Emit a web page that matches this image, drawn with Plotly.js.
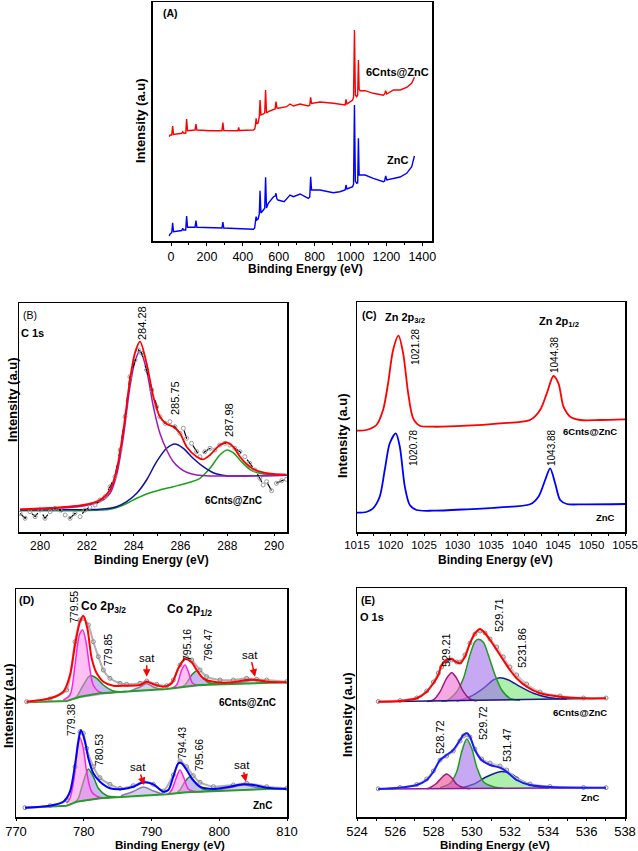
<!DOCTYPE html>
<html><head><meta charset="utf-8">
<script src="https://cdn.plot.ly/plotly-3.0.1.min.js"></script>
<style>html,body{margin:0;padding:0;background:#fff}#chart{width:638px;height:851px}</style>
</head><body><div id="chart"></div>
<script>
// ---------- Panel A: survey ----------
const A_red_E = [-10,-5,4,9,14,50,60,65,70,82,87,92,134,139,144,217,284,289,294,373,377,381,459,466,470,474,478,485,492,496,501,515,522,527,532,542,570,580,585,590,596,644,663,682,719,765,773,778,783,830,904,960,970,975,980,1012,1017,1022,1027,1034,1040,1044,1048,1053,1081,1127,1183,1190,1196,1202,1239,1276,1313,1341,1356];
const A_red_I = [104.3,106,106,115,106.5,107.7,107.7,109.3,108,107.7,122,110.3,111,117,111,110.3,110.3,118.3,110.5,110.3,113.7,110.5,111,112,115,122.7,117,118,124.3,141,126,127,128,151,128,129.3,131,132,139.3,133,132.7,134.3,137,135,137,135,136,143.7,137.5,139,137.7,135.7,136,141.7,137,141,144,211,146,144.3,146,181,152,150.3,150.3,147.7,145.7,147,150.3,147,151,151,153.7,157.7,163.7];
const A_blue_E = [-10,-5,4,9,14,50,60,65,70,82,87,92,134,139,144,284,289,294,459,466,470,474,478,485,492,496,501,510,522,527,532,542,570,580,585,590,596,630,644,663,682,719,765,773,778,783,830,904,940,960,970,975,980,1012,1017,1022,1027,1034,1040,1044,1048,1053,1081,1127,1183,1190,1196,1202,1239,1276,1313,1341,1356];
const A_blue_I = [5,7,8.3,18.3,9.3,10.3,10.5,12.7,11,11,25,13.7,13.7,20.3,13.7,13,19,13,11.7,13,18,24.3,21,22,27,50.3,28,30,32.7,63.7,33,37.7,44,45,47.7,42,41,39.3,42,46,44.3,47,42.7,44,64.3,51,51,48.3,49.3,50,51,56,52,54.3,57,136,60,57.7,58,102.7,66,66,66,62.7,59.3,60,65,61,62.7,64,67.7,74.3,85];
const A_ticks = [0,200,400,600,800,1000,1200,1400];

// ---------- Panel B: C 1s ----------
const B_raw_E = [279.15,279.36,279.57,279.79,280.0,280.21,280.43,280.64,280.85,281.07,281.28,281.49,281.71,281.92,282.13,282.35,282.56,282.78,282.99,283.2,283.42,283.63,283.84,284.06,284.2,284.34,284.55,284.77,284.98,285.12,285.34,285.55,285.76,285.98,286.12,286.26,286.47,286.69,286.83,287.04,287.26,287.47,287.68,287.9,288.11,288.32,288.54,288.75,288.96,289.18,289.39,289.53,289.68,289.89,290.1,290.32,290.53];
const B_raw_I = [18.7,13.7,20.3,15.3,22,13.7,20.3,23.7,22,17,13.7,18.7,15.3,22,24.7,27,32,35.3,45.3,55.3,82,115.3,155.3,172,182,178.7,162,142,125.3,115.3,108.7,110.3,105.3,98.7,103.7,93.7,88.7,80.3,75.3,80.3,83.7,82,87,88.7,87,83.7,80.3,75.3,68.7,62,53.7,47,50.3,41.3,48.7,51.3,52.7];
const B_fit_E = [279.15,280.43,281.85,282.56,282.99,283.27,283.56,283.84,284.05,284.27,284.55,284.84,285.12,285.41,285.69,285.98,286.26,286.69,286.97,287.26,287.68,287.97,288.25,288.54,288.96,289.39,289.96,290.53];
const B_fit_I = [22.7,24,27,32,42,62,102,152,178.7,190.3,168.7,135.3,115.3,108,105.3,98.7,85.3,75.3,72.7,77,87,89.7,85.3,75.3,65.3,60.3,58,57.3];
const B_cc_E = [279.15,280.43,281.85,282.56,282.99,283.27,283.56,283.84,284.05,284.27,284.55,284.84,285.12,285.41,285.69,285.98,286.26,286.69,287.26,288.25,290.53];
const B_cc_I = [22.7,23.3,26,30.3,38.7,57,95.3,145.3,170.3,181.3,162,125.3,98.7,82,70.3,63.7,59.7,57,56,56,56.7];
const B_co_E = [279.15,281.14,282.56,283.27,283.7,284.13,284.55,284.98,285.41,285.76,286.12,286.54,286.97,287.4,287.97,288.54,290.53];
const B_co_I = [22,22.3,22.7,25.3,30.3,38.7,52,70.3,83.7,88,83.7,73.7,65.3,59.3,56.3,56,56.7];
const B_oco_E = [279.15,281.85,282.99,283.56,284.13,284.55,285.12,285.69,286.26,286.83,287.26,287.68,287.99,288.25,288.54,288.96,289.39,289.96,290.53];
const B_oco_I = [21.3,21.3,22.7,27,33.7,38,42,45.3,48.7,53.7,63.7,77,82,79.3,72,62.7,58.7,57.3,57];

// ---------- Panel C: Zn 2p ----------
const C_red_E = [1015,1016.4,1017.9,1018.89,1019.64,1020.39,1021.19,1021.89,1022.64,1023.38,1024.38,1026.37,1031.36,1036.35,1040.83,1042.33,1043.33,1044.32,1045.07,1045.82,1046.82,1048.31,1051.3,1055];
const C_red_I = [101.3,102,107,122,148.7,182,196.3,178.7,138.7,113.7,106.3,105.3,106.3,108.7,112,122,138.7,156,148.7,125.3,115.3,112,112,112.7];
const C_blue_E = [1015,1016.4,1017.39,1018.39,1019.14,1019.89,1020.79,1021.39,1022.14,1022.88,1023.88,1026.37,1031.36,1036.35,1040.83,1042.08,1043.08,1043.83,1044.57,1045.32,1046.32,1048.81,1055];
const C_blue_I = [19.3,20,23.7,35.3,62,88.7,98.7,85.3,45.3,27,22,21.3,22.7,24.7,27.7,35.3,52,63.7,48.7,32,28,27.7,28];

// ---------- Panel D: Co 2p ----------
const D1_bg_E = [771.57,777.48,779.45,782.4,792.24,795.19,797.16,809.95];
const D1_bg_I = [114.7,116,120.3,123.7,128,130.3,132,134.7];
const D1_fit_E = [771.57,775.02,776.99,777.97,778.71,779.45,779.94,780.53,781.17,781.91,782.89,784.37,786.33,788.3,789.29,790.27,791.75,792.98,793.96,794.94,795.93,796.67,797.65,799.62,802.08,804.05,805.52,807.0,809.95];
const D1_fit_I = [115.3,118.7,125.3,142,172,195.3,201.3,188.7,158.7,143.7,135.3,131.3,131.3,132,135.3,132.7,130.3,133.7,148.7,158,154.7,147,138.7,134.7,134.7,137,137,135.3,134.7];
const D1_raw_E = [771.57,775.02,777.48,778.71,779.45,779.94,780.68,781.41,782.15,782.89,783.87,785.35,786.33,788.3,789.29,790.76,792.24,793.22,794.2,795.19,795.93,797.16,798.14,800.11,802.08,804.05,805.52,807.0,809.95];
const D1_raw_I = [115.3,118,127,175.3,197,198.7,192,175.3,160.3,147,138.7,133.7,132.7,133.7,136,132.7,131.3,137,152,159.3,157,147,140.3,137,137,138.7,137.7,137,135.3];
const D1_p1_E = [776.99,777.97,778.71,779.35,779.84,780.33,780.82,781.41,782.4,784.37];
const D1_p1_I = [117,122,152,182,187,175.3,152,132,124.7,124.6];
const D1_s1_E = [778.46,778.95,779.94,780.92,781.91,782.89,784.37,786.33];
const D1_s1_I = [118,120.3,132,141.3,138.7,132,126,125.5];
const D1_sat1_E = [786.8,788.3,789.29,790.27,791.75];
const D1_sat1_I = [125.8,130,133.5,130,127.2];
const D1_p2_E = [792.98,793.71,794.45,794.94,795.44,796.08,797.16,798.14];
const D1_p2_I = [128.7,132,147,152,145.3,133.7,131.5,132.2];
const D1_s2_E = [794.2,794.94,795.93,796.67,797.4,798.39,799.62,801.0];
const D1_s2_I = [129.6,132,142,146,140.3,134.5,133,133.3];
const D1_sat2_E = [801.6,803.5,805.0,806.5,808.5];
const D1_sat2_I = [133,135,137,135.5,134.5];

const D2_bg_E = [771.33,777.48,778.95,782.4,792.24,795.19,809.95];
const D2_bg_I = [9.3,11.3,15.3,18.7,22.7,24.7,28.7];
const D2_fit_E = [771.33,775.02,776.99,777.97,778.71,779.2,779.59,780.18,780.68,781.41,782.4,783.87,785.84,787.32,788.8,790.27,791.75,792.48,793.22,793.96,794.45,795.19,795.93,797.16,799.13,801.59,803.55,805.03,807.0,809.95];
const D2_fit_I = [9.3,11.3,15.3,25.3,52,75.3,87,75.3,58.7,43.7,35.3,28.7,28,30.3,34.7,32.7,25.3,27,40.3,53.7,53.7,47,38.7,30.3,28,30.3,32.7,32,29.3,28];
const D2_raw_E = [771.33,775.02,777.48,778.71,779.45,779.94,780.43,781.41,782.4,783.87,785.35,787.32,788.8,790.27,791.75,793.22,794.2,795.19,796.17,797.16,799.13,802.08,804.05,807.0,809.95];
const D2_raw_I = [9.3,11.3,17,50.3,85.3,83.7,68.7,50.3,39.3,32.7,28.7,31.3,35.3,32.7,26,42,56,50.3,41.3,34.7,30.3,32,33.7,30.3,28.7];
const D2_p1_E = [777.48,777.97,778.71,779.05,779.45,779.94,780.43,781.17,782.4,783.87];
const D2_p1_I = [13.7,18.7,45.3,68.7,79.3,68.7,45.3,25.3,19.5,19.3];
const D2_s1_E = [778.71,779.2,779.94,780.68,781.41,782.15,783.38,784.86];
const D2_s1_I = [14.7,18.7,35.3,48,40.3,28.7,21.3,20];
const D2_sat1_E = [785.5,787.3,788.8,790.3,791.7];
const D2_sat1_I = [21.3,25.5,30,26,22.5];
const D2_p2_E = [792.48,792.98,793.71,794.2,794.8,795.44,796.67,797.65];
const D2_p2_I = [23,27,40.3,47,38.7,28,25.3,25.5];
const D2_s2_E = [793.71,794.2,794.94,795.68,796.42,797.4,798.64,800.11];
const D2_s2_I = [24,27,35.3,40.3,35.3,28.7,26.5,26];
const D2_sat2_E = [799.5,801.6,803.55,805.5,807.5];
const D2_sat2_I = [26.5,29.5,32,29.5,28];

// ---------- Panel E: O 1s ----------
const E1_bg_E = [525.11,537.01];
const E1_bg_I = [115.3,118.7];
const E1_fit_E = [525.11,526.25,527.12,527.64,527.99,528.25,528.42,528.68,528.95,529.21,529.38,529.64,529.9,530.16,530.43,530.69,530.95,531.3,531.64,531.99,532.34,532.86,533.56,534.61,535.83,537.01];
const E1_fit_I = [115.3,116,118.7,125.3,133.7,142,152,157,158,154.7,153.7,160.3,173.7,183.7,188,183.7,177,167,157,147,138.7,130.3,123.7,120.3,118.7,118.7];
const E1_raw_I = [115.5,116.5,119,126,135,144,150,156,157,155,155,162,174,183,186,184,178,170,160,150,142,133,125,121,119,119];
const E1_a_E = [527.64,527.99,528.34,528.68,528.95,529.21,529.56,529.9,530.25];
const E1_a_I = [115.6,117,125.3,138.7,144.3,138.7,125.3,118,116];
const E1_b_E = [528.4,528.68,529.21,529.56,529.9,530.16,530.34,530.6,530.86,531.21,531.56,531.99,532.52];
const E1_b_I = [115.8,116,125.3,138.7,162,175.3,177.7,174.7,162,142,127,118.7,116.7];
const E1_c_E = [529.21,529.9,530.6,531.12,531.47,531.91,532.52,533.21,534.08,534.95];
const E1_c_I = [116,120.3,128.7,137,139.3,137,130.3,123.7,119.3,118];

const E2_bg_E = [525.11,537.01];
const E2_bg_I = [28,29.3];
const E2_fit_E = [525.11,526.25,527.12,527.64,527.99,528.34,528.68,529.03,529.38,529.56,529.73,529.9,530.16,530.51,530.95,531.47,531.82,532.34,533.04,534.08,535.83,537.01];
const E2_fit_I = [28,29.3,32,37,45.3,57,62,67,77,82,83.7,80.3,67,57,52,49.3,45.3,37,32,30,29.3,29.3];
const E2_raw_I = [28.2,29.5,32.5,38,46,57,61,66,76,81,82.5,80,68,58,54,51,47,38.5,33,30.5,29.5,29.3];
const E2_a_E = [527.64,527.81,528.16,528.42,528.68,528.95,529.21,529.56,529.9];
const E2_a_I = [28.3,29.3,33.7,39.3,43,39.3,32.7,29.3,28.3];
const E2_b_E = [528.34,528.86,529.21,529.47,529.73,529.99,530.25,530.6,531.12,531.64];
const E2_b_I = [29.3,33.7,45.3,65.3,78,68.7,50.3,35.3,30.3,28.7];
const E2_c_E = [529.38,530.08,530.77,531.47,531.99,532.52,533.21,534.08];
const E2_c_I = [28.7,32.7,40.3,45.3,43.7,37,31.3,29];

// ---------- build ----------
const F = 'Liberation Sans, Arial, sans-serif';
const W = 638, H = 851;
const traces = [];
function ln(x, y, color, w, ax, extra) {
  traces.push(Object.assign({type:'scatter', mode:'lines', x:x, y:y, xaxis:'x'+ax, yaxis:'y'+ax,
    line:{color:color, width:w, shape:'spline', smoothing:0.8}, hoverinfo:'skip'}, extra||{}));
}
function comp(x, y, lc, fc, ax) {
  ln(x, y, lc, 1.5, ax, {fill:'toself', fillcolor:fc});
}
function raw(x, y, ax, color) {
  traces.push({type:'scatter', mode:'lines+markers', x:x, y:y, xaxis:'x'+ax, yaxis:'y'+ax,
    line:{color:color||'#b0b0b0', width:2, shape:'spline', smoothing:0.6},
    marker:{symbol:'circle-open', size:4, color:'#8a8a8a', line:{width:1}}, hoverinfo:'skip'});
}

// A
ln(A_red_E, A_red_I, '#ff0000', 1.3, '', {line:{color:'#ff0000', width:1.4, shape:'linear'}});
ln(A_blue_E, A_blue_I, '#0000ff', 1.3, '', {line:{color:'#0000ff', width:1.4, shape:'linear'}});
traces[0].xaxis='x'; traces[0].yaxis='y'; traces[1].xaxis='x'; traces[1].yaxis='y';

// B
ln(B_oco_E, B_oco_I, '#1aa01a', 1.5, 2);
ln(B_co_E, B_co_I, '#1010a0', 1.5, 2);
ln(B_cc_E, B_cc_I, '#9a1ab8', 1.5, 2);
traces.push({type:'scatter', mode:'lines+markers', x:B_raw_E, y:B_raw_I, xaxis:'x2', yaxis:'y2',
  line:{color:'#000', width:1.2, dash:'dash'}, marker:{symbol:'circle-open', size:4, color:'#9a9a9a', line:{width:1}}, hoverinfo:'skip'});
ln(B_fit_E, B_fit_I, '#ff0000', 1.8, 2);

// C
ln(C_red_E, C_red_I, '#ff0000', 1.8, 3);
ln(C_blue_E, C_blue_I, '#0000ff', 1.8, 3);

// D
const lav = 'rgba(150,130,225,0.55)', pink = 'rgba(255,140,235,0.55)', satf = 'rgba(175,160,215,0.5)';
comp(D1_sat1_E, D1_sat1_I, '#8a78b0', satf, 4);
comp(D1_sat2_E, D1_sat2_I, '#8a78b0', satf, 4);
comp(D1_s1_E, D1_s1_I, '#1a8f1a', lav, 4);
comp(D1_s2_E, D1_s2_I, '#1a8f1a', lav, 4);
comp(D1_p1_E, D1_p1_I, '#ff22dd', pink, 4);
comp(D1_p2_E, D1_p2_I, '#ff22dd', pink, 4);
ln(D1_bg_E, D1_bg_I, '#2a9a2a', 2, 4, {line:{color:'#2a9a2a', width:2, shape:'linear'}});
raw(D1_raw_E, D1_raw_I, 4);
ln(D1_fit_E, D1_fit_I, '#ff0000', 2, 4);
comp(D2_sat1_E, D2_sat1_I, '#8a78b0', satf, 4);
comp(D2_sat2_E, D2_sat2_I, '#8a78b0', satf, 4);
comp(D2_s1_E, D2_s1_I, '#1a8f1a', lav, 4);
comp(D2_s2_E, D2_s2_I, '#1a8f1a', lav, 4);
comp(D2_p1_E, D2_p1_I, '#ff22dd', pink, 4);
comp(D2_p2_E, D2_p2_I, '#ff22dd', pink, 4);
ln(D2_bg_E, D2_bg_I, '#2a9a2a', 2, 4, {line:{color:'#2a9a2a', width:2, shape:'linear'}});
raw(D2_raw_E, D2_raw_I, 4);
ln(D2_fit_E, D2_fit_I, '#0000ff', 2, 4);

// E
comp(E1_c_E, E1_c_I, '#1a1aa0', 'rgba(90,225,90,0.5)', 5);
comp(E1_b_E, E1_b_I, '#1c9c1c', 'rgba(160,110,235,0.6)', 5);
comp(E1_a_E, E1_a_I, '#9b1a7a', 'rgba(240,110,210,0.6)', 5);
ln(E1_bg_E, E1_bg_I, '#1a1a80', 1.5, 5, {line:{color:'#1a1a80', width:1.5, shape:'linear'}});
raw(E1_fit_E, E1_raw_I, 5, '#c8c8c8');
ln(E1_fit_E, E1_fit_I, '#ff0000', 2, 5);
comp(E2_c_E, E2_c_I, '#1a1aa0', 'rgba(90,225,90,0.5)', 5);
comp(E2_b_E, E2_b_I, '#1c9c1c', 'rgba(160,110,235,0.6)', 5);
comp(E2_a_E, E2_a_I, '#9b1a7a', 'rgba(240,70,150,0.6)', 5);
ln(E2_bg_E, E2_bg_I, '#8a1a9a', 1.5, 5, {line:{color:'#8a1a9a', width:1.5, shape:'linear'}});
raw(E2_fit_E, E2_raw_I, 5, '#c8c8c8');
ln(E2_fit_E, E2_fit_I, '#1a1aff', 2, 5);

// axes
function xa(l, r, range, dtick, mdt, fs, anchor, tv, tl) {
  const o = {domain:[l/W, r/W], anchor:anchor, range:range, showgrid:false, zeroline:false,
    showline:true, mirror:true, linecolor:'#000', linewidth:1.5,
    ticks:'outside', ticklen:tl||3, tickwidth:1, tickcolor:'#000', dtick:dtick, tick0:range[0],
    tickfont:{family:F, size:fs, color:'#000'}, fixedrange:true};
  if (tv) { o.tickmode='array'; o.tickvals=tv; o.ticktext=tv.map(String); delete o.dtick; }
  if (mdt) o.minor = {dtick:mdt, ticks:'outside', ticklen:2, tickwidth:1, tickcolor:'#000', showgrid:false};
  return o;
}
function ya(top, bot, range, anchor) {
  return {domain:[1-bot/H, 1-top/H], anchor:anchor, range:range, showgrid:false, zeroline:false,
    showline:true, mirror:true, linecolor:'#000', linewidth:1.5, ticks:'', showticklabels:false, fixedrange:true};
}
const xA = xa(152.7, 432, [-102,1454], 200, null, 12.5, 'y', A_ticks, 3);
xA.minor = {tickvals:[100,300,500,700,900,1100,1300], ticks:'outside', ticklen:2, tickwidth:1, tickcolor:'#000'};

const layout = {
  width:W, height:H, margin:{l:0,r:0,t:0,b:0}, paper_bgcolor:'#fff', plot_bgcolor:'rgba(0,0,0,0)', showlegend:false,
  font:{family:F, color:'#000'},
  xaxis: xA, yaxis: ya(2, 241, [0,239], 'x'),
  xaxis2: xa(19, 287, [279.1,290.55], 2, 1, 12, 'y2', [280,282,284,286,288,290], 2), yaxis2: ya(303, 532, [0,229], 'x2'),
  xaxis3: xa(357, 625, [1015,1055], 5, 2.5, 11.5, 'y3', null, 2), yaxis3: ya(302, 532, [0,230], 'x3'),
  xaxis4: xa(16, 287, [770,810], 10, null, 13, 'y4', null, 2), yaxis4: ya(589, 817, [0,228], 'x4'),
  xaxis5: xa(357, 625, [524,538], 2, 1, 13, 'y5', null, 2), yaxis5: ya(588, 817, [0,229], 'x5'),
  annotations: []
};
layout.xaxis2.minor = {tickvals:[279,281,283,285,287,289], ticks:'outside', ticklen:2, tickwidth:1, tickcolor:'#000'};

function lab(text, x, y, size, bold, rot) {
  layout.annotations.push({text: bold ? '<b>'+text+'</b>' : text, x:x/W, y:1-y/H, xref:'paper', yref:'paper',
    xanchor:'center', yanchor:'middle', showarrow:false, textangle: rot||0,
    font:{family:F, size:size, color:'#000'}});
}
function sat(ax, E, I, dx, dy) {
  layout.annotations.push({text:'sat', x:E, y:I, xref:'x'+ax, yref:'y'+ax, ax:dx, ay:dy,
    showarrow:true, arrowhead:2, arrowsize:1, arrowwidth:1.5, arrowcolor:'#ff0000', standoff:0,
    font:{family:F, size:11.5, color:'#000'}});
}
const BE = 'Binding Energy (eV)', INT = 'Intensity (a.u)';
// axis titles
lab(BE, 305, 269, 12, true); lab(BE, 151, 560, 12, true); lab(BE, 495, 560, 12, true);
lab(BE, 170, 845, 11.5, true); lab(BE, 495, 845, 11.5, true);
lab(INT, 140, 121, 13, true, -90); lab(INT, 12, 400, 13, true, -90); lab(INT, 342, 436, 13, true, -90);
lab(INT, 8, 706, 13, true, -90); lab(INT, 347, 715, 13, true, -90);
// A
lab('(A)', 170, 13, 10.5, true); lab('6Cnts@ZnC', 397, 72, 11, true); lab('ZnC', 397, 160, 11, true);
// B
lab('(B)', 30, 315, 10.5, false); lab('C 1s', 32, 333, 11, true);
lab('284.28', 142, 323, 11, false, -90); lab('285.75', 175, 398, 11, false, -90); lab('287.98', 229, 420, 11, false, -90);
lab('6Cnts@ZnC', 233, 500, 10, true);
// C
lab('(C)', 369, 315, 10.5, true); lab('Zn 2p<sub>3/2</sub>', 405, 318, 11, true); lab('Zn 2p<sub>1/2</sub>', 559, 322, 11, true);
lab('1021.28', 415, 347, 10, false, -90); lab('1044.38', 554, 355, 10, false, -90);
lab('6Cnts@ZnC', 590, 431, 9.5, true);
lab('1020.78', 413, 448, 10, false, -90); lab('1043.88', 551, 448, 10, false, -90);
lab('ZnC', 605, 517, 9.5, true);
// D
lab('(D)', 27, 600, 11, true); lab('779.55', 74, 607, 10.5, false, -90);
lab('Co 2p<sub>3/2</sub>', 103, 607, 12, true); lab('Co 2p<sub>1/2</sub>', 189, 610, 12, true);
lab('779.85', 108, 650, 10.5, false, -90); lab('795.16', 187, 645, 10.5, false, -90); lab('796.47', 208, 645, 10.5, false, -90);
lab('6Cnts@ZnC', 248, 702, 10, true);
lab('779.38', 71, 720, 10.5, false, -90); lab('780.53', 99, 750, 10.5, false, -90);
lab('794.43', 182, 743, 10.5, false, -90); lab('795.66', 199, 755, 10.5, false, -90);
lab('ZnC', 262, 805, 10, true);
sat(4, 789.29, 140.3, 0, -19); sat(4, 805.28, 140.3, -5, -22);
sat(4, 788.9, 32, -6, -18); sat(4, 803.95, 35.3, -4, -17);
// E
lab('(E)', 368, 600, 10.5, true); lab('O 1s', 372, 617, 11, true);
lab('529.21', 446, 650, 11, false, -90); lab('529.71', 499, 615, 11, false, -90); lab('5231.86', 522, 648, 11, false, -90);
lab('6Cnts@ZnC', 580, 712, 9.5, true);
lab('528.72', 440, 737, 11, false, -90); lab('529.72', 483, 723, 11, false, -90); lab('531.47', 507, 745, 11, false, -90);
lab('ZnC', 590, 797, 9.5, true);

Plotly.newPlot('chart', traces, layout, {staticPlot:true, displayModeBar:false});
</script>
</body></html>
